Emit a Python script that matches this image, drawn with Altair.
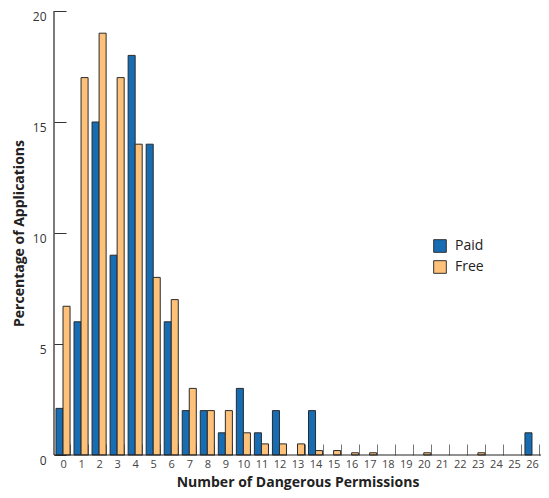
import altair as alt
import pandas as pd

perms = list(range(27))
paid = [2.1, 6, 15, 9, 18, 14, 6, 2, 2, 1, 3, 1, 2, 0, 2, 0, 0, 0, 0, 0, 0, 0, 0, 0, 0, 0, 1]
free = [6.7, 17, 19, 17, 14, 8, 7, 3, 2, 2, 1, 0.5, 0.5, 0.5, 0.2, 0.2, 0.1, 0.1, 0, 0, 0.1, 0, 0, 0.1, 0, 0, 0]
series = ["Paid", "Free"]
colors = ["#166db4", "#fdc17a"]

rows = []
for p, a, b in zip(perms, paid, free):
    rows.append({"perm": p, "series": "Paid", "value": a})
    rows.append({"perm": p, "series": "Free", "value": b})
df = pd.DataFrame(rows)

FONT = "Open Sans"
W = 487
H = 444

bars = alt.Chart(df).transform_filter("datum.value > 0").mark_bar(
    stroke="#2b2b2b", strokeWidth=1
).encode(
    x=alt.X("perm:O", title="Number of Dangerous Permissions",
            scale=alt.Scale(domain=perms, paddingInner=0.22, paddingOuter=0.11),
            axis=alt.Axis(labelAngle=0, labelFontSize=11, labelColor="#444",
                          labelPadding=3, domain=False, offset=-11, tickSize=11,
                          tickBand="extent", tickColor="#777", tickWidth=1,
                          labelOverlap=False,
                          titleFontSize=14, titleFontWeight="bold", titleColor="#222",
                          titlePadding=6, labelFont=FONT, titleFont=FONT)),
    xOffset=alt.XOffset("series:N", sort=series, scale=alt.Scale(paddingInner=0)),
    y=alt.Y("value:Q", title="Percentage of Applications",
            scale=alt.Scale(domain=[0, 20], nice=False),
            axis=alt.Axis(values=[0, 5, 10, 15, 20], grid=False, domain=False,
                          offset=-12, tickSize=12, tickColor="#333", labelPadding=8,
                          labelFontSize=12, labelColor="#333", labelOffset=5,
                          titleFontSize=14, titleFontWeight="bold", titleColor="#222",
                          titlePadding=6, labelFont=FONT, titleFont=FONT)),
    color=alt.Color("series:N", sort=series,
                    scale=alt.Scale(domain=series, range=colors),
                    legend=alt.Legend(title=None, orient="none", legendX=379, legendY=228,
                                      symbolType="square", symbolSize=160,
                                      symbolStrokeColor="#333", symbolStrokeWidth=1,
                                      labelFontSize=14, labelColor="#222", labelFont=FONT,
                                      rowPadding=3, padding=0, labelOffset=8)),
)

base_line = alt.Chart(pd.DataFrame({"v": [0]})).mark_rule(color="#222", strokeWidth=1.2).encode(
    y=alt.Y("v:Q")
)
left_line = alt.Chart(pd.DataFrame({"v": [0]})).mark_rule(color="#222", strokeWidth=1.2).encode(
    x=alt.value(0), y=alt.datum(20), y2=alt.datum(0)
)

chart = alt.layer(bars, base_line, left_line).properties(
    width=W, height=H,
    autosize=alt.AutoSizeParams(type="none"),
    padding={"left": 46, "top": 3, "right": 0, "bottom": 35},
).configure(font=FONT).configure_view(stroke=None)

chart.save("out.html", embed_options={"renderer": "svg", "actions": False})
